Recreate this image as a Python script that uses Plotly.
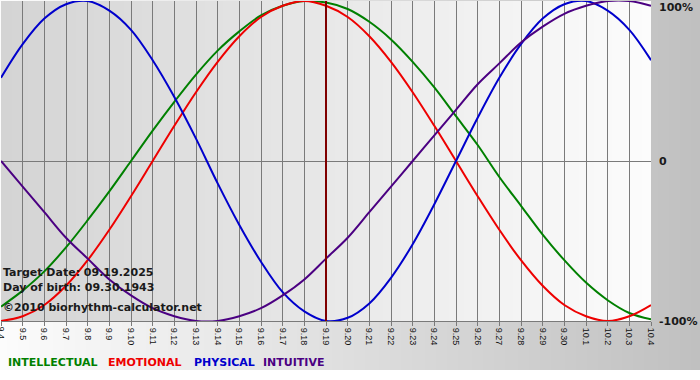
import base64, struct, zlib
import plotly.graph_objects as go

# ---- data ----
day_labels = ["9.4", "9.5", "9.6", "9.7", "9.8", "9.9", "9.10", "9.11", "9.12", "9.13",
              "9.14", "9.15", "9.16", "9.17", "9.18", "9.19", "9.20", "9.21", "9.22", "9.23",
              "9.24", "9.25", "9.26", "9.27", "9.28", "9.29", "9.30", "10.1", "10.2", "10.3", "10.4"]
intellectual = [-0.91, -0.81, -0.69, -0.54, -0.37, -0.19, 0.00, 0.19, 0.37, 0.54,
                0.69, 0.81, 0.91, 0.97, 1.00, 0.99, 0.95, 0.87, 0.76, 0.62,
                0.46, 0.28, 0.10, -0.10, -0.28, -0.46, -0.62, -0.76, -0.87, -0.95, -0.99]
emotional = [-1.00, -0.97, -0.90, -0.78, -0.62, -0.43, -0.22, 0.00, 0.22, 0.43,
             0.62, 0.78, 0.90, 0.97, 1.00, 0.97, 0.90, 0.78, 0.62, 0.43,
             0.22, 0.00, -0.22, -0.43, -0.62, -0.78, -0.90, -0.97, -1.00, -0.97, -0.90]
physical = [0.52, 0.73, 0.89, 0.98, 1.00, 0.94, 0.82, 0.63, 0.40, 0.14,
            -0.14, -0.40, -0.63, -0.82, -0.94, -1.00, -0.98, -0.89, -0.73, -0.52,
            -0.27, 0.00, 0.27, 0.52, 0.73, 0.89, 0.98, 1.00, 0.94, 0.82, 0.63]
intuitive = [0.00, -0.16, -0.32, -0.48, -0.61, -0.74, -0.84, -0.92, -0.97, -1.00,
             -1.00, -0.97, -0.92, -0.84, -0.74, -0.61, -0.48, -0.32, -0.16, 0.00,
             0.16, 0.32, 0.48, 0.61, 0.74, 0.84, 0.92, 0.97, 1.00, 1.00, 0.97]
target_label = "9.19"
target_text = "Target Date: 09.19.2025"
birth_text = "Day of birth: 09.30.1943"
credit_text = "©2010 biorhythm-calculator.net"
y_labels = ["100%", "0", "-100%"]
y_label_vals = [1, 0, -1]

series = [("INTELLECTUAL", intellectual, "#008000"),
          ("EMOTIONAL", emotional, "#ee0000"),
          ("PHYSICAL", physical, "#0000cc"),
          ("INTUITIVE", intuitive, "#4b0082")]

x = list(range(len(day_labels)))


def gradient_png(c0, c1, n=256):
    row = bytearray(b"\x00")
    for i in range(n):
        t = i / (n - 1)
        row += bytes(int(round(a + (b - a) * t)) for a, b in zip(c0, c1))
    raw = bytes(row) * 2

    def chunk(tag, data):
        return struct.pack(">I", len(data)) + tag + data + struct.pack(">I", zlib.crc32(tag + data) & 0xffffffff)
    png = (b"\x89PNG\r\n\x1a\n" + chunk(b"IHDR", struct.pack(">IIBBBBB", n, 2, 8, 2, 0, 0, 0))
           + chunk(b"IDAT", zlib.compress(raw)) + chunk(b"IEND", b""))
    return "data:image/png;base64," + base64.b64encode(png).decode()


W, H = 700, 380
L, R, T, B = 1, 49, 1, 59
PW, PH = W - L - R, H - T - B


def px(xp):
    return (xp - L) / PW


def py(yp):
    return (H - B - yp) / PH


fig = go.Figure()
for name, vals, col in series:
    fig.add_trace(go.Scatter(x=x, y=vals, mode="lines", name=name,
                             line=dict(color=col, width=2, shape="spline", smoothing=1),
                             hoverinfo="skip"))

ti = day_labels.index(target_label)
fig.add_shape(type="line", xref="x", yref="paper", x0=ti, x1=ti, y0=0, y1=1,
              line=dict(color="#800000", width=2), layer="above")

images = [
    dict(source=gradient_png((252, 252, 252), (192, 192, 192)), xref="paper", yref="paper",
         x=px(0), y=py(0), sizex=W / PW, sizey=370 / PH, xanchor="left", yanchor="top",
         sizing="stretch", layer="below"),
    dict(source=gradient_png((212, 212, 212), (252, 252, 252)), xref="paper", yref="paper",
         x=0, y=1, sizex=1, sizey=1, xanchor="left", yanchor="top",
         sizing="stretch", layer="below"),
]

tickfont = dict(family="Liberation Sans", size=9, color="#111111")
ann = []
bold = dict(family="DejaVu Sans", size=11, color="#1a1a1a")
for txt, yy in [(target_text, 272), (birth_text, 287), (credit_text, 307)]:
    ann.append(dict(text="<b>%s</b>" % txt, xref="paper", yref="paper", x=px(1), y=py(yy),
                    xanchor="left", yanchor="middle", showarrow=False, font=bold))
for lab, v in zip(y_labels, y_label_vals):
    ann.append(dict(text="<b>%s</b>" % lab, xref="paper", yref="y", x=px(657), y=v,
                    xanchor="left", yanchor="middle", showarrow=False, font=bold,
                    yshift=-6 if v == 1 else 0))
leg_x = [6, 106, 192, 261]
for (name, vals, col), lx in zip(series, leg_x):
    ann.append(dict(text="<b>%s</b>" % name, xref="paper", yref="paper", x=px(lx), y=py(362),
                    xanchor="left", yanchor="middle", showarrow=False,
                    font=dict(family="DejaVu Sans", size=11, color=col)))
# first tick label (partly cut at the left edge, as in the reference)
ann.append(dict(text=day_labels[0], xref="x", yref="paper", x=0, y=py(325),
                xanchor="center", yanchor="top", textangle=90, showarrow=False,
                font=tickfont, borderpad=0))

fig.update_layout(
    width=W, height=H, margin=dict(l=L, r=R, t=T, b=B),
    paper_bgcolor="white", plot_bgcolor="rgba(0,0,0,0)",
    showlegend=False, images=images, annotations=ann,
    xaxis=dict(range=[0, len(x) - 1], tickvals=x, ticktext=day_labels, tickangle=90,
               showgrid=True, gridcolor="#7a7a7a", gridwidth=1, zeroline=False,
               showline=True, linecolor="#7a7a7a", linewidth=1,
               ticks="outside", ticklen=4, tickcolor="#7a7a7a",
               tickfont=tickfont, fixedrange=True),
    yaxis=dict(range=[-1, 1], showgrid=False, zeroline=True, zerolinecolor="#7a7a7a",
               zerolinewidth=1, showticklabels=False, ticks="", fixedrange=True),
)
fig.write_html("out.html", config={"displayModeBar": False},
               post_script="document.body.style.margin='0';document.body.style.padding='0';")
